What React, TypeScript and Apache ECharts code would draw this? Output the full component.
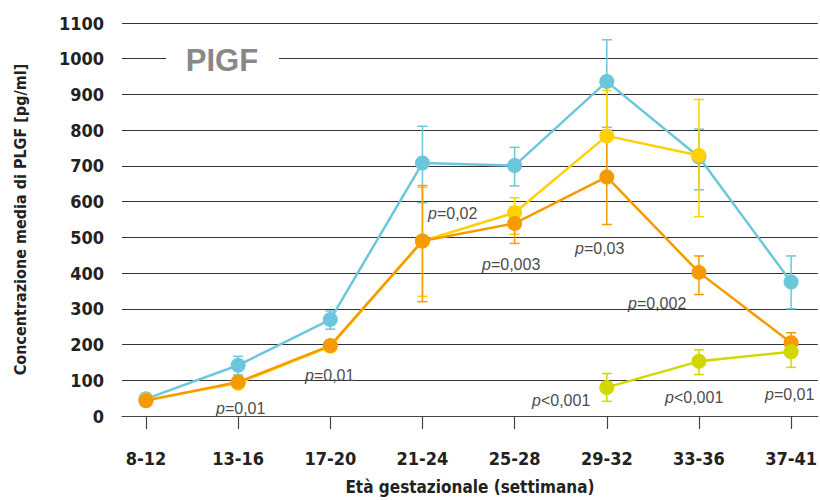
import React, { useEffect, useRef } from "react";
import * as echarts from "echarts";

const categories = ["8-12", "13-16", "17-20", "21-24", "25-28", "29-32", "33-36", "37-41"];
const yTicks = [0, 100, 200, 300, 400, 500, 600, 700, 800, 900, 1000, 1100];

const cyanMean = [48, 142, 270, 708, 701, 936, 725, 375];
const cyanLow = [40, 115, 243, 597, 644, 808, 633, 300];
const cyanHigh = [57, 167, 294, 811, 752, 1053, 803, 448];

const yellowMean = [45, 92, 195, 490, 569, 784, 729, null];
const yellowLow = [40, 82, 185, 335, 509, 657, 558, null];
const yellowHigh = [50, 104, 208, 640, 611, 911, 886, null];

const orangeMean = [43, 95, 197, 490, 539, 669, 402, 205];
const orangeLow = [38, 84, 186, 320, 483, 536, 340, 180];
const orangeHigh = [50, 108, 209, 645, 585, 800, 448, 233];

const limeMean = [null, null, null, null, null, 80, 153, 180];
const limeLow = [null, null, null, null, null, 41, 116, 136];
const limeHigh = [null, null, null, null, null, 119, 185, 215];

const pLabels = [
  { op: "=", val: "0,01" },
  { op: "=", val: "0,01" },
  { op: "=", val: "0,02" },
  { op: "=", val: "0,003" },
  { op: "=", val: "0,03" },
  { op: "=", val: "0,002" },
  { op: "<", val: "0,001" },
  { op: "<", val: "0,001" },
  { op: "=", val: "0,01" },
];
const pLabelPos = [
  [216, 408], [305, 375], [428, 213], [482, 264], [575, 248],
  [628, 303], [532, 400], [665, 397], [765, 394],
];

const COLORS = {
  cyan: "#6CC6DC",
  yellow: "#FFD100",
  orange: "#F59B00",
  lime: "#D2D700",
};

const FONT = "'Liberation Sans Narrow', 'DejaVu Sans Condensed', 'Liberation Sans', sans-serif";
const PFONT = "'Liberation Sans', Arial, sans-serif";

function lineData(vals: (number | null)[]) {
  return vals.map((v, i) => (v == null ? [i, null] : [i, v]));
}
function errData(lo: (number | null)[], hi: (number | null)[]) {
  const out: any[] = [];
  lo.forEach((l, i) => {
    if (l != null && hi[i] != null) out.push([i, l, hi[i]]);
  });
  return out;
}

function errSeries(name: string, lo: any[], hi: any[], color: string) {
  return {
    type: "custom",
    name: name + "-err",
    z: 2,
    data: errData(lo, hi),
    encode: { x: 0, y: [1, 2] },
    renderItem: (params: any, api: any) => {
      const x = api.value(0);
      const a = api.coord([x, api.value(1)]);
      const b = api.coord([x, api.value(2)]);
      const w = 5;
      const style = { stroke: color, lineWidth: 1.5 };
      return {
        type: "group",
        children: [
          { type: "line", shape: { x1: a[0], y1: a[1], x2: b[0], y2: b[1] }, style },
          { type: "line", shape: { x1: a[0] - w, y1: a[1], x2: a[0] + w, y2: a[1] }, style },
          { type: "line", shape: { x1: b[0] - w, y1: b[1], x2: b[0] + w, y2: b[1] }, style },
        ],
      };
    },
  };
}

function lineSeries(name: string, vals: any[], color: string, z: number) {
  return {
    type: "line",
    name,
    z,
    data: lineData(vals),
    connectNulls: false,
    symbol: "circle",
    symbolSize: 15,
    lineStyle: { color, width: 2.5 },
    itemStyle: { color },
  };
}

export default function App() {
  const ref = useRef<HTMLDivElement>(null);
  useEffect(() => {
    if (!ref.current) return;
    const chart = echarts.init(ref.current, null, { renderer: "svg" });
    const graphics: any[] = [
      { type: "rect", shape: { x: 166, y: 50, width: 113, height: 18 }, style: { fill: "#fff" }, z: 10 },
      {
        type: "text",
        x: 222,
        y: 60,
        z: 11,
        style: {
          text: "PIGF",
          fill: "#888888",
          font: "bold 31px 'Liberation Sans', Arial, sans-serif",
          textAlign: "center",
          textVerticalAlign: "middle",
        },
      },
    ];
    pLabels.forEach((p, i) => {
      graphics.push({
        type: "text",
        x: pLabelPos[i][0],
        y: pLabelPos[i][1],
        z: 11,
        style: {
          text: "{i|p}" + p.op + p.val,
          fill: "#4d4d4d",
          fontSize: 16,
          fontFamily: PFONT,
          textAlign: "left",
          textVerticalAlign: "middle",
          rich: { i: { fontStyle: "italic", fontSize: 16, fill: "#4d4d4d", fontFamily: PFONT } },
        },
      });
    });

    chart.setOption({
      animation: false,
      backgroundColor: "#fff",
      grid: { left: 122, right: 0, top: 23, bottom: 81 },
      xAxis: {
        type: "value",
        min: -0.26,
        max: 7.29,
        name: "Età gestazionale (settimana)",
        nameLocation: "middle",
        nameGap: 62,
        nameTextStyle: { fontFamily: FONT, fontSize: 17, color: "#222", fontWeight: "bold" },
        axisLine: { show: true, lineStyle: { color: "#444", width: 1.2 } },
        axisTick: { show: true, length: 13, lineStyle: { color: "#444", width: 1.2 }, customValues: categories.map((_, i) => i) },
        axisLabel: {
          customValues: categories.map((_, i) => i),
          formatter: (v: number) => categories[Math.round(v)] ?? "",
          margin: 33,
          fontFamily: FONT,
          fontSize: 18,
          fontWeight: "bold",
          color: "#222",
        },
        splitLine: { show: false },
      },
      yAxis: {
        type: "value",
        min: yTicks[0],
        max: yTicks[yTicks.length - 1],
        interval: 100,
        name: "Concentrazione media di PLGF [pg/ml]",
        nameLocation: "middle",
        nameGap: 94,
        nameTextStyle: { fontFamily: FONT, fontSize: 16, color: "#222", fontWeight: "bold" },
        axisLine: { show: false },
        axisTick: { show: false },
        axisLabel: {
          margin: 18,
          fontFamily: FONT,
          fontSize: 18,
          fontWeight: "bold",
          color: "#222",
          formatter: (v: number) => String(v),
        },
        splitLine: { show: true, lineStyle: { color: "#333", width: 1.2 } },
      },
      graphic: graphics,
      series: [
        errSeries("cyan", cyanLow, cyanHigh, COLORS.cyan),
        errSeries("yellow", yellowLow, yellowHigh, COLORS.yellow),
        errSeries("orange", orangeLow, orangeHigh, COLORS.orange),
        errSeries("lime", limeLow, limeHigh, COLORS.lime),
        lineSeries("cyan", cyanMean, COLORS.cyan, 3),
        lineSeries("yellow", yellowMean, COLORS.yellow, 4),
        lineSeries("orange", orangeMean, COLORS.orange, 5),
        lineSeries("lime", limeMean, COLORS.lime, 6),
      ],
    });
    return () => chart.dispose();
  }, []);
  return <div ref={ref} style={{ width: 820, height: 500, position: "absolute", left: 0, top: 0 }} />;
}
